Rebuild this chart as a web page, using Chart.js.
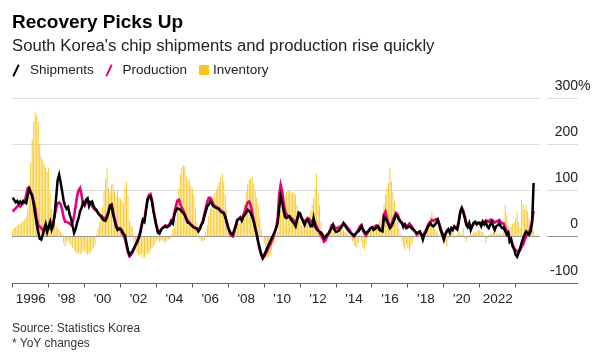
<!DOCTYPE html>
<html><head><meta charset="utf-8">
<script src="https://cdn.jsdelivr.net/npm/chart.js@4.4.1/dist/chart.umd.min.js"></script>
<style>
body{margin:0;background:#fff;}
#wrap{position:relative;width:609px;height:355px;overflow:hidden;font-family:"Liberation Sans",Arial,sans-serif;}
canvas{position:absolute;left:0;top:0;}
.t{position:absolute;white-space:nowrap;}
.lg{font-size:13.5px;line-height:14px;color:#222;top:63px;}
.sl{position:absolute;width:2px;height:13px;top:64px;transform:rotate(25deg);}
</style></head><body>
<div id="wrap">
<canvas id="c" width="609" height="355"></canvas>
<div class="t" style="left:12px;top:12px;font-size:19px;line-height:19px;font-weight:bold;color:#000">Recovery Picks Up</div>
<div class="t" style="left:12px;top:37px;font-size:16.7px;line-height:17px;color:#222">South Korea's chip shipments and production rise quickly</div>
<div class="sl" style="left:15px;background:#000"></div>
<div class="t lg" style="left:30px">Shipments</div>
<div class="sl" style="left:108px;background:#e5007d"></div>
<div class="t lg" style="left:122.5px">Production</div>
<div class="t" style="left:199px;top:65px;width:10px;height:10px;background:#f8c51c"></div>
<div class="t lg" style="left:213px">Inventory</div>
<div class="t" style="left:12px;top:322px;font-size:12px;line-height:12px;color:#333">Source: Statistics Korea</div>
<div class="t" style="left:12px;top:337px;font-size:12px;line-height:12px;color:#333">* YoY changes</div>
</div>
<script>
const startYear = 1995; // monthly data from Jan 1995 to Jan 2024
const tickYears = [1996,1998,2000,2002,2004,2006,2008,2010,2012,2014,2016,2018,2020,2022];
const tickLabels = ["1996","'98","'00","'02","'04","'06","'08","'10","'12","'14","'16","'18","'20","2022"];
const yTicks = [-100,0,100,200,300];

const shipments = [
 84,79,74,77,72,76,72,77,74,72,90,103,
 95,88,70,48,28,10,-5,-7,3,14,26,10,
 22,32,15,24,48,85,122,134,118,98,78,66,
 60,64,48,38,22,8,16,30,40,55,62,74,
 70,80,83,66,74,76,66,60,58,50,46,43,
 38,35,34,42,52,66,68,48,36,22,14,16,
 17,12,6,2,-15,-30,-40,-36,-32,-25,-18,-13,
 -5,4,20,36,32,55,78,85,87,76,55,38,
 22,8,6,14,18,20,22,20,22,25,32,28,
 47,56,61,60,58,54,51,46,36,30,29,25,
 22,20,18,18,11,16,25,30,43,55,66,69,
 76,72,66,64,62,61,58,54,52,51,42,29,
 18,11,6,4,14,24,36,38,40,34,42,47,
 52,58,55,51,42,32,18,4,-12,-25,-38,-47,
 -40,-33,-25,-18,-11,-4,3,10,18,28,60,88,
 75,55,42,40,43,44,36,32,28,22,36,52,
 50,40,32,25,34,36,30,22,22,40,22,16,
 13,11,8,4,-4,0,4,6,12,18,25,14,
 10,11,13,18,22,29,24,18,14,10,7,4,
 2,6,9,11,16,22,15,10,7,10,12,18,
 20,14,16,20,22,14,12,11,43,40,33,26,
 18,22,29,38,47,44,36,32,30,22,26,18,
 20,22,20,16,14,10,7,9,11,4,-7,4,
 10,18,24,29,24,22,25,30,36,24,12,4,
 -7,5,12,16,8,18,14,22,18,15,32,54,
 61,52,40,25,20,29,14,22,30,32,26,29,
 29,22,32,26,32,22,18,26,32,22,14,22,
 24,29,22,18,20,12,4,8,-11,-6,-22,-28,
 -40,-44,-35,-25,-14,-4,4,11,8,4,10,30,
 116
];

const production = [
 54,58,61,65,69,65,69,72,76,90,105,106,
 97,90,76,61,40,25,22,18,14,18,25,18,
 16,20,24,28,45,62,72,74,70,58,42,32,
 32,30,28,25,30,45,65,88,100,105,90,70,
 66,74,78,76,72,66,62,58,55,52,48,45,
 42,40,40,46,56,68,70,55,40,26,18,18,
 14,8,2,-5,-20,-35,-43,-40,-35,-28,-20,-12,
 -2,8,24,38,38,60,82,90,92,80,58,40,
 24,12,8,14,18,21,24,22,24,28,36,34,
 52,66,78,80,70,62,56,48,40,34,30,26,
 24,20,18,16,13,18,26,34,48,62,76,84,
 84,78,70,66,64,62,60,56,54,52,44,32,
 20,8,2,0,10,22,34,38,42,38,46,55,
 66,74,76,68,52,36,20,4,-12,-28,-40,-48,
 -44,-38,-32,-24,-18,-10,-2,8,20,40,90,112,
 98,72,55,48,44,42,40,38,34,30,38,44,
 46,40,36,32,36,40,38,32,34,36,30,22,
 14,8,2,-4,-11,-8,0,6,14,24,26,20,
 18,18,20,22,24,28,26,22,18,14,8,4,
 0,4,10,16,22,25,14,6,2,8,14,18,
 20,18,22,24,22,18,16,14,48,54,40,30,
 22,26,36,44,51,48,40,34,28,20,26,22,
 24,28,24,20,14,10,4,8,6,4,2,8,
 14,22,28,32,36,34,36,38,36,28,16,8,
 -2,4,10,14,12,16,18,20,18,20,34,52,
 62,56,44,30,24,26,20,24,28,30,28,30,
 30,26,32,30,34,34,32,36,36,34,30,32,
 34,36,32,28,28,20,12,10,-4,-8,-18,-25,
 -30,-32,-34,-30,-22,-18,-8,0,6,10,20,35,
 55
];

const inventory = [
 15,18,20,24,26,28,30,34,36,42,60,110,
 160,210,250,271,262,248,200,175,165,158,150,140,
 150,95,60,45,30,22,18,15,10,6,-15,-22,
 -12,-8,-14,-20,-25,-28,-34,-38,-35,-40,-36,-30,
 -32,-35,-40,-38,-34,-30,-25,-18,5,20,32,45,
 65,100,125,150,105,95,112,115,98,90,100,85,
 82,78,72,105,119,90,35,25,20,-12,-28,-35,
 -40,-44,-38,-47,-45,-40,-35,-38,-30,-25,-22,-15,
 -10,-6,-12,-10,-8,-12,-15,-10,-6,-6,5,15,
 20,35,70,105,135,150,155,152,130,122,124,110,
 105,90,60,32,5,-6,-10,-11,-8,10,25,45,
 60,72,85,95,102,110,118,128,137,120,90,60,
 30,12,4,8,18,25,32,28,30,32,50,69,
 97,115,123,126,128,115,100,85,69,40,18,0,
 -15,-35,-47,-45,-40,-30,-20,-10,5,10,25,55,
 65,76,88,97,101,98,94,96,94,90,69,47,
 32,25,22,25,32,38,43,55,69,83,105,137,
 95,69,32,12,5,2,8,5,7,10,18,25,
 18,25,20,22,18,14,10,7,4,2,-4,-10,
 -20,-22,-25,-15,4,-11,-25,-29,-18,-4,11,15,
 14,18,20,22,28,32,40,47,69,90,105,116,
 148,119,97,76,54,32,18,4,-11,-22,-30,-18,
 -25,-33,-22,-14,-4,4,11,4,0,7,-4,4,
 8,22,32,43,54,32,18,11,7,0,11,4,
 4,-11,-22,-4,7,9,11,-4,2,4,11,8,
 4,18,-4,-11,-4,3,7,5,11,8,10,14,
 14,11,9,4,-14,-4,3,7,5,9,11,6,
 4,6,7,4,32,69,47,22,18,22,28,32,
 40,54,32,20,79,69,58,69,54,40,25,18,
 12
];

const FONT = '"Liberation Sans", Arial, sans-serif';
const toPts = arr => arr.map((v, i) => ({x: startYear + i / 12, y: v}));

const rightAxisDecor = {
  id: 'rightAxisDecor',
  afterDraw(chart) {
    const {ctx, chartArea} = chart;
    const ys = chart.scales.y;
    const segL = chartArea.right + 7, segR = chartArea.right + 38;
    ctx.save();
    ys.ticks.forEach(t => {
      const py = Math.round(ys.getPixelForValue(t.value)) + 0.5;
      ctx.lineWidth = 1;
      if (t.value === -100) {
        ctx.strokeStyle = '#666';
        ctx.beginPath(); ctx.moveTo(chartArea.left, py); ctx.lineTo(segR, py); ctx.stroke();
      } else {
        ctx.strokeStyle = t.value === 0 ? '#999' : '#dcdcdc';
        ctx.beginPath(); ctx.moveTo(segL, py); ctx.lineTo(segR, py); ctx.stroke();
      }
      ctx.fillStyle = '#222';
      ctx.font = '14px ' + FONT;
      ctx.textBaseline = 'middle';
      ctx.textAlign = 'right';
      ctx.fillText(String(t.value), segR, py - 12.5);
      if (t.value === 300) { ctx.textAlign = 'left'; ctx.fillText('%', segR, py - 12.5); }
    });
    ctx.restore();
  }
};

new Chart(document.getElementById('c'), {
  type: 'bar',
  data: {
    datasets: [
      {type: 'line', label: 'Shipments', data: toPts(shipments), borderColor: '#000', borderWidth: 2.5, pointRadius: 0, tension: 0, order: 0},
      {type: 'line', label: 'Production', data: toPts(production), borderColor: '#e5007d', borderWidth: 2.6, pointRadius: 0, tension: 0, order: 1},
      {type: 'bar', label: 'Inventory', data: toPts(inventory), backgroundColor: '#f8c51c', barPercentage: 0.6, categoryPercentage: 1, order: 2}
    ]
  },
  options: {
    responsive: false, animation: false,
    layout: {padding: {left: 12, top: 98.3, right: 0, bottom: 42.5}},
    plugins: {legend: {display: false}, tooltip: {enabled: false}},
    scales: {
      x: {
        type: 'linear', min: 1994.959, max: 2024.355, offset: false,
        afterBuildTicks(s) { s.ticks = tickYears.map(v => ({value: v})); },
        afterFit(s) { s.height = 30; },
        grid: {drawOnChartArea: false, drawTicks: true, tickLength: 5, color: '#555'},
        border: {display: false},
        ticks: {
          autoSkip: false, maxRotation: 0, padding: 4, color: '#222',
          font: {size: 13.5, family: FONT},
          callback: v => tickLabels[tickYears.indexOf(v)]
        }
      },
      y: {
        position: 'right', min: -100, max: 300,
        afterBuildTicks(s) { s.ticks = yTicks.map(v => ({value: v})); },
        afterFit(s) { s.width = 69; },
        ticks: {display: false},
        border: {display: false},
        grid: {
          drawTicks: false, lineWidth: 1,
          color: c => c.tick.value === 0 ? '#999' : (c.tick.value === -100 ? 'rgba(0,0,0,0)' : '#dcdcdc')
        }
      }
    }
  },
  plugins: [rightAxisDecor]
});
</script>
</body></html>
